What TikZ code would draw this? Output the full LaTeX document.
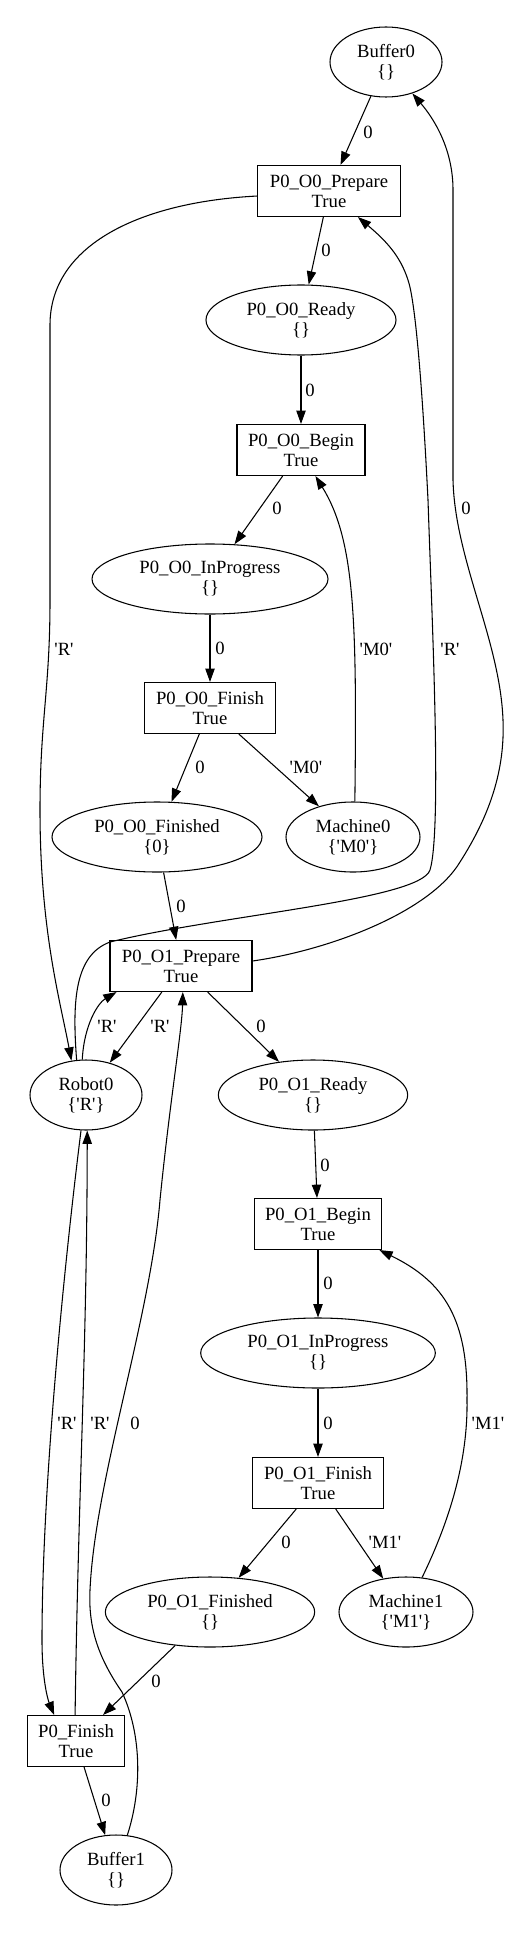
\documentclass[tikz,border=0pt]{standalone}
\usepackage{fontspec}
\setmainfont{Liberation Serif}[Ligatures=TeXOff]
\usetikzlibrary{arrows.meta,shapes.geometric}
\tikzset{>={Triangle[length=10pt,width=7pt]}}
\tikzset{
  place/.style={draw, ellipse, line width=0.8pt, inner sep=0pt, minimum height=52.5pt, align=center},
  trans/.style={draw, rectangle, line width=0.8pt, inner sep=0pt, minimum height=38.25pt, align=center},
  flow/.style={->, line width=0.8pt},
  lbl/.style={inner sep=0pt}
}

\begin{document}
\begin{tikzpicture}[x=0.75pt, y=-0.75pt, font=\fontsize{14}{15}\selectfont]
\useasboundingbox (0,0) rectangle (516,1933);

% places and transitions
\node[place, minimum width=84pt]    (Buffer0) at (386,62)   {Buffer0\\\{\}};
\node[trans, minimum width=107pt]   (Pre0)    at (329,191)  {P0\_O0\_Prepare\\True};
\node[place, minimum width=142.5pt] (Rdy0)    at (301,320)  {P0\_O0\_Ready\\\{\}};
\node[trans, minimum width=96pt]    (Beg0)    at (301,450)  {P0\_O0\_Begin\\True};
\node[place, minimum width=177pt]   (Prog0)   at (210,579)  {P0\_O0\_InProgress\\\{\}};
\node[trans, minimum width=98pt]    (Fin0)    at (210,708)  {P0\_O0\_Finish\\True};
\node[place, minimum width=157.5pt] (Done0)   at (157,837)  {P0\_O0\_Finished\\\{0\}};
\node[place, minimum width=100.5pt] (Mach0)   at (353,837)  {Machine0\\\{'M0'\}};
\node[trans, minimum width=106.5pt] (Pre1)    at (181,966)  {P0\_O1\_Prepare\\True};
\node[place, minimum width=84pt]    (Robot0)  at (86,1095)  {Robot0\\\{'R'\}};
\node[place, minimum width=142pt]   (Rdy1)    at (313,1095) {P0\_O1\_Ready\\\{\}};
\node[trans, minimum width=95pt]    (Beg1)    at (318,1224) {P0\_O1\_Begin\\True};
\node[place, minimum width=176pt]   (Prog1)   at (318,1353) {P0\_O1\_InProgress\\\{\}};
\node[trans, minimum width=98pt]    (Fin1)    at (318,1483) {P0\_O1\_Finish\\True};
\node[place, minimum width=157pt]   (Done1)   at (210,1612) {P0\_O1\_Finished\\\{\}};
\node[place, minimum width=100.5pt] (Mach1)   at (406,1612) {Machine1\\\{'M1'\}};
\node[trans, minimum width=73pt]    (PFin)    at (76,1741)  {P0\_Finish\\True};
\node[place, minimum width=84pt]    (Buffer1) at (116,1870) {Buffer1\\\{\}};

% straight arcs
\draw[flow] (Buffer0) -- (Pre0);
\draw[flow] (Pre0) -- (Rdy0);
\draw[flow] (Rdy0) -- (Beg0);
\draw[flow] (Beg0) -- (Prog0);
\draw[flow] (Prog0) -- (Fin0);
\draw[flow] (Fin0) -- (Done0);
\draw[flow] (Fin0) -- (Mach0);
\draw[flow] (Done0) -- (Pre1);
\draw[flow] (Pre1) -- (Robot0);
\draw[flow] (Pre1) -- (Rdy1);
\draw[flow] (Rdy1) -- (Beg1);
\draw[flow] (Beg1) -- (Prog1);
\draw[flow] (Prog1) -- (Fin1);
\draw[flow] (Fin1) -- (Done1);
\draw[flow] (Fin1) -- (Mach1);
\draw[flow] (Done1) -- (PFin);
\draw[flow] (PFin) -- (Buffer1);

% curved arcs
\draw[flow] (Mach0.87) .. controls (357,620) and (355,540) .. (Beg0.-61);
\draw[flow] (Mach1.65) .. controls (450,1520) and (468,1460) .. (467,1400)
  .. controls (468,1320) and (445,1282) .. (Beg1.-23);
\draw[flow] (Pre0.184) .. controls (140,202) and (50,245) .. (50,325) -- (50,600)
  .. controls (50,690) and (40,720) .. (40,810)
  .. controls (40,930) and (60,1000) .. (Robot0.113);
\draw[flow] (Robot0.105) .. controls (72,1000) and (75,955) .. (110,942)
  .. controls (220,915) and (420,900) .. (430,870)
  .. controls (442,830) and (432,620) .. (428,500)
  .. controls (422,380) and (415,300) .. (408,280)
  .. controls (400,255) and (385,240) .. (Pre0.-42);
\draw[flow] (Pre1.4) .. controls (330,950) and (430,912) .. (460,862)
  .. controls (490,815) and (505,770) .. (503,720)
  .. controls (500,640) and (455,560) .. (453,480) -- (453,190)
  .. controls (453,150) and (435,120) .. (Buffer0.-50);
\draw[flow] (Robot0.96) .. controls (84,1025) and (98,1003) .. (Pre1.-158);
\draw[flow] (Robot0.-98) .. controls (66,1250) and (42,1480) .. (42,1640)
  .. controls (42,1680) and (48,1700) .. (PFin.130);
\draw[flow] (PFin.92) .. controls (78,1500) and (87,1350) .. (Robot0.-88);
\draw[flow] (Buffer1.72) .. controls (142,1790) and (142,1735) .. (122,1692)
  .. controls (100,1660) and (88,1630) .. (90,1590)
  .. controls (95,1480) and (150,1320) .. (160,1200)
  .. controls (170,1100) and (182,1030) .. (Pre1.-86);

% arc weights
\node[lbl] (w1)  at (368,132)  {0};
\node[lbl] (w2)  at (326,250)  {0};
\node[lbl] (w3)  at (310,390)  {0};
\node[lbl] (w4)  at (277,508)  {0};
\node[lbl] (w5)  at (220,648)  {0};
\node[lbl] (w6)  at (200,767)  {0};
\node[lbl] (w7)  at (306,767)  {'M0'};
\node[lbl] (w8)  at (376,649)  {'M0'};
\node[lbl] (w9)  at (181,906)  {0};
\node[lbl] (w10) at (64,649)   {'R'};
\node[lbl] (w11) at (450,649)  {'R'};
\node[lbl] (w12) at (466,508)  {0};
\node[lbl] (w13) at (160,1026) {'R'};
\node[lbl] (w14) at (107,1026) {'R'};
\node[lbl] (w15) at (261,1026) {0};
\node[lbl] (w16) at (325,1165) {0};
\node[lbl] (w17) at (328,1283) {0};
\node[lbl] (w18) at (328,1423) {0};
\node[lbl] (w19) at (286,1542) {0};
\node[lbl] (w20) at (385,1542) {'M1'};
\node[lbl] (w21) at (488,1423) {'M1'};
\node[lbl] (w22) at (156,1681) {0};
\node[lbl] (w23) at (67,1423)  {'R'};
\node[lbl] (w24) at (100,1423) {'R'};
\node[lbl] (w25) at (135,1423) {0};
\node[lbl] (w26) at (106,1800) {0};
\end{tikzpicture}
\end{document}
